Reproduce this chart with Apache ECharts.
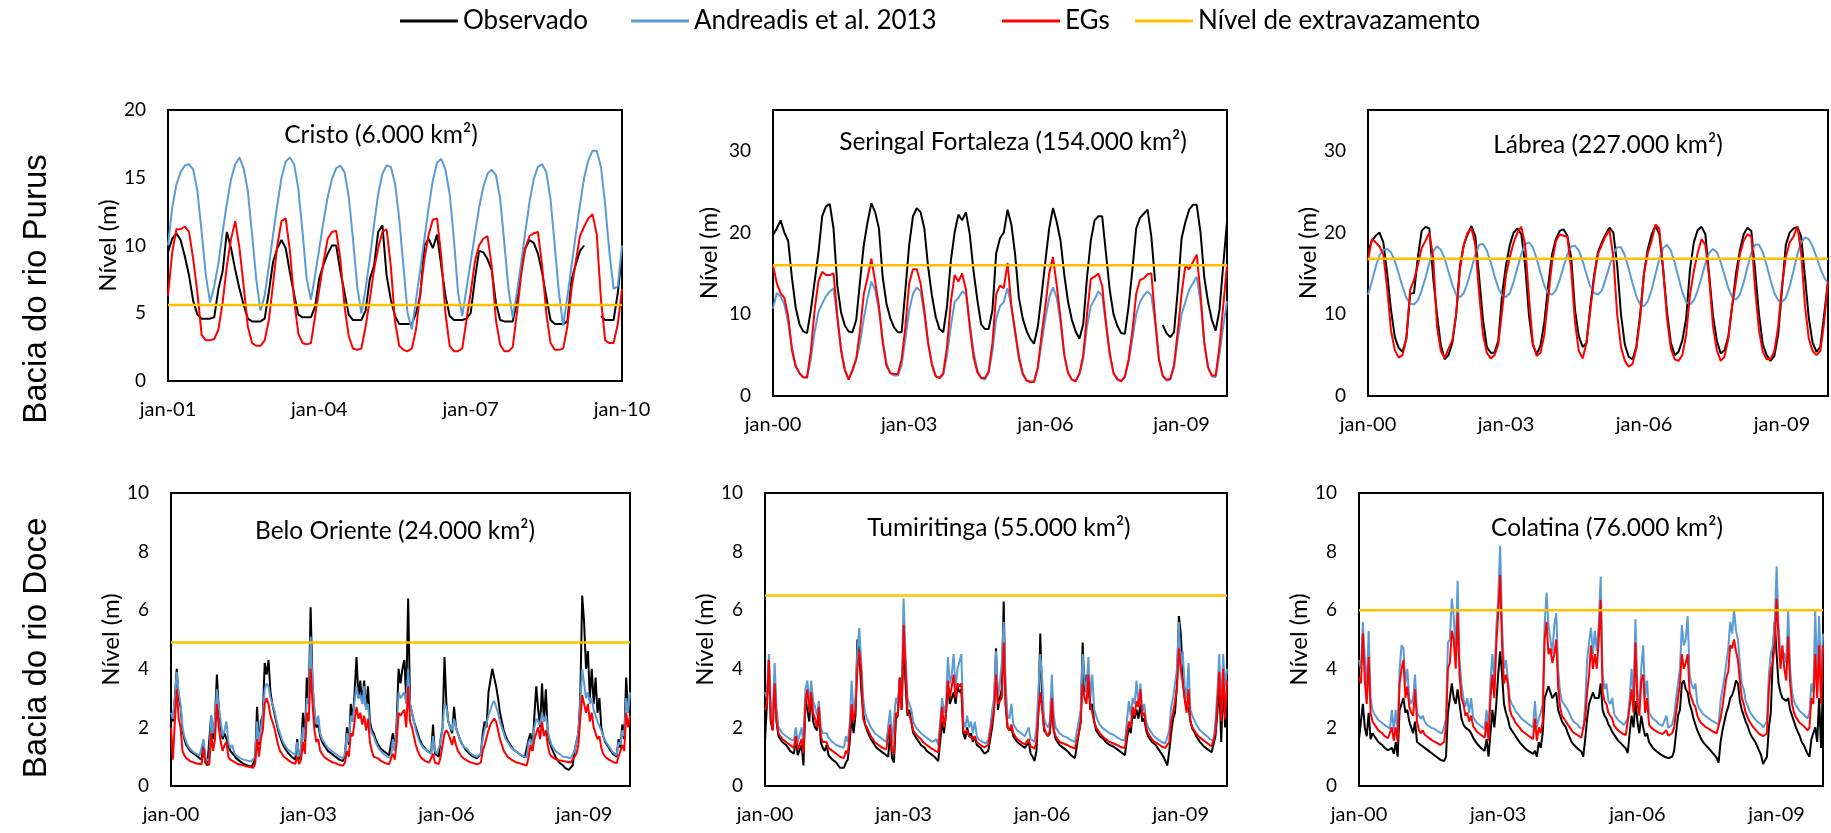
<!DOCTYPE html>
<html><head><meta charset="utf-8">
<script src="https://cdn.jsdelivr.net/npm/echarts@6/dist/echarts.min.js"></script>
<style>html,body{margin:0;padding:0;background:#fff}#c{width:1831px;height:833px}</style>
</head><body><div id="c"></div>
<script>
// ---------------- DATA ----------------
const seriesNames = ['Observado', 'Andreadis et al. 2013', 'EGs', 'Nível de extravazamento'];
const stationTitles = ['Cristo (6.000 km²)', 'Seringal Fortaleza (154.000 km²)', 'Lábrea (227.000 km²)',
  'Belo Oriente (24.000 km²)', 'Tumiritinga (55.000 km²)', 'Colatina (76.000 km²)'];
const basinLabels = ['Bacia do rio Purus', 'Bacia do rio Doce'];
const startYears = [2001, 2000, 2000, 2000, 2000, 2000];
const spanYears = [9, 10, 10, 10, 10, 10];
const samplesPerYear = [12, 12, 12, 24, 24, 24];
const yMax = [20, 35, 35, 10, 10, 10];
const yTickStep = [5, 10, 10, 2, 2, 2];
const spillLevels = [5.6, 16.0, 16.8, 4.9, 6.5, 6.0];

// Cristo (monthly, jan-01 .. jan-10)
const cristoObs = [
9.5,10.5,10.9,10.4,9.2,7.8,5.9,4.9,4.6,4.6,4.6,4.7,
6.8,8.1,11.0,9.8,8.2,6.8,5.6,4.6,4.4,4.4,4.4,4.6,
6.6,8.8,9.8,10.4,9.8,8.0,6.4,4.9,4.7,4.7,4.7,5.5,
7.6,8.6,9.4,10.0,10.0,8.1,6.5,4.9,4.5,4.5,4.5,5.2,
7.5,8.5,11.0,11.5,7.8,6.0,4.8,4.2,4.2,4.2,4.2,5.0,
6.3,10.0,10.5,9.8,10.8,8.5,6.3,4.8,4.5,4.5,4.5,4.6,
5.0,7.5,9.6,9.5,9.0,8.2,5.8,4.5,4.4,4.4,4.4,5.8,
8.4,9.8,10.4,10.2,9.4,8.0,6.2,4.5,4.2,4.2,4.2,4.4,
7.5,8.6,9.6,10.0,null,null,null,4.8,4.5,4.5,4.5,6.5,
9.5];
const cristoAndreadis = [
10.0,12.8,14.5,15.4,15.9,16.0,15.6,14.0,11.0,7.8,5.8,7.0,
8.7,11.0,13.1,14.9,16.0,16.5,15.7,14.0,10.8,7.5,5.2,6.3,
8.5,10.8,13.0,15.0,16.2,16.5,16.0,14.2,11.0,7.5,6.0,7.8,
9.8,11.8,13.6,14.9,15.7,15.9,15.4,13.6,10.5,7.0,5.0,6.8,
9.0,11.5,13.8,15.3,15.9,15.8,14.6,12.0,8.5,5.0,3.8,6.0,
8.2,10.5,12.8,14.8,16.1,16.4,15.6,13.8,10.5,6.5,4.8,6.8,
8.8,10.8,12.8,14.3,15.3,15.6,15.2,13.5,10.2,6.8,4.7,6.5,
8.7,11.0,13.2,14.9,15.8,16.0,15.4,13.4,10.0,6.5,4.1,6.2,
8.5,10.8,13.0,15.0,16.3,17.0,17.0,15.8,13.0,9.5,6.8,7.0,
10.0];
const cristoEGs = [
6.3,9.5,11.2,11.2,11.4,11.0,9.0,6.5,3.4,3.0,3.0,3.1,
3.8,5.8,8.5,10.5,11.8,9.8,7.0,4.0,2.8,2.6,2.6,3.0,
4.5,7.2,10.0,11.8,12.0,9.6,6.0,3.5,2.8,2.7,2.8,4.8,
6.8,8.8,10.5,11.0,11.1,9.0,5.5,3.3,2.4,2.3,2.4,4.0,
6.0,8.2,9.8,11.0,11.2,8.5,4.4,2.6,2.3,2.2,2.4,3.8,
6.5,9.0,10.8,11.9,12.0,9.2,5.0,2.6,2.2,2.2,2.4,4.5,
6.5,8.8,10.0,10.5,10.7,8.5,4.5,2.7,2.2,2.2,2.5,5.0,
7.8,9.8,10.7,10.9,11.0,8.5,5.0,2.8,2.3,2.3,2.4,4.0,
6.8,8.8,10.7,11.4,12.0,12.3,10.8,6.0,3.0,2.8,2.8,4.2,
6.8];

// Seringal Fortaleza (monthly, jan-00 .. jan-10)
const seringalObs = [
19.7,20.5,21.5,20.0,19.0,14.5,10.8,8.8,7.9,7.7,10.5,14.0,
17.5,22.0,23.2,23.5,20.5,13.5,10.2,8.6,7.9,7.8,9.3,14.0,
18.5,21.3,23.6,22.5,20.5,14.5,11.3,9.5,8.4,7.8,7.8,13.0,
18.5,22.0,23.0,22.5,20.5,15.8,12.3,9.7,8.2,7.8,11.0,16.5,
20.0,22.2,21.5,22.5,19.8,15.3,11.8,8.8,8.2,8.2,10.5,17.5,
19.3,20.0,22.8,21.0,17.3,12.0,9.5,8.0,7.0,6.4,8.5,12.4,
16.5,20.5,23.0,21.3,19.0,14.8,11.5,9.3,7.9,7.0,8.8,14.5,
19.0,21.5,22.0,22.0,17.5,13.0,10.0,8.6,7.7,7.6,11.0,15.5,
20.5,21.8,22.3,22.8,19.5,14.0,null,8.7,7.7,7.2,7.8,13.0,
19.3,21.3,22.8,23.4,23.4,20.0,14.5,11.5,9.3,8.0,10.5,16.0,
21.3];
const seringalAndreadis = [
10.7,12.6,12.2,11.2,9.0,6.0,3.8,2.8,2.3,2.2,4.5,7.8,
10.3,11.3,12.2,12.8,13.2,9.5,5.8,3.3,2.1,3.0,4.4,6.5,
9.5,12.0,14.0,13.0,10.5,7.0,4.0,2.8,2.5,2.5,3.8,7.0,
10.5,12.5,13.3,12.8,10.0,6.5,4.0,2.5,2.2,2.6,5.0,8.5,
11.5,12.0,12.8,12.5,9.0,5.5,3.2,2.2,2.0,2.8,5.5,9.5,
11.0,11.5,13.2,11.0,7.5,4.5,2.6,1.9,1.8,1.8,3.5,6.5,
9.5,12.0,13.3,12.0,9.0,5.0,2.8,2.0,1.8,2.6,4.5,8.5,
11.0,11.8,12.8,12.3,8.8,5.2,2.8,2.0,1.8,2.3,4.2,7.0,
10.0,11.5,12.3,12.8,12.3,9.0,4.5,2.4,1.9,2.0,3.5,7.0,
10.0,11.5,13.0,13.8,14.6,11.5,6.5,3.5,2.4,2.3,5.0,8.5,
11.6];
const seringalEGs = [
16.0,13.8,12.6,12.0,9.8,5.6,3.6,2.8,2.3,2.3,5.5,10.5,
14.0,15.2,14.8,14.8,15.0,9.8,5.5,3.1,2.0,3.2,4.6,8.0,
12.5,14.5,16.8,14.0,11.0,6.5,3.7,2.8,2.7,2.7,4.5,8.5,
13.8,15.5,15.5,13.8,10.5,6.5,3.8,2.4,2.2,2.8,6.0,11.5,
14.8,14.0,15.0,13.0,8.5,4.8,2.9,2.2,2.2,3.0,6.5,12.5,
13.5,13.2,16.3,11.0,8.0,4.8,2.8,1.9,1.7,1.7,3.5,7.5,
11.0,15.0,17.0,13.5,9.5,5.0,2.8,2.0,1.8,2.8,5.0,10.0,
14.3,14.6,15.0,13.5,9.0,5.2,2.8,2.1,1.8,2.4,4.5,8.0,
12.5,14.2,14.4,14.9,15.0,9.5,4.5,2.5,2.0,2.1,3.8,8.0,
12.5,16.0,15.5,16.4,17.3,12.5,6.5,3.5,2.5,2.5,6.0,11.0,
16.0];

// Lábrea (monthly, jan-00 .. jan-10)
const labreaObs = [
17.7,19.0,19.6,20.0,18.8,15.0,10.5,7.2,5.9,5.4,7.0,12.5,
12.6,17.0,20.2,20.7,20.5,14.5,10.0,6.2,4.5,5.0,6.5,10.0,
16.0,18.5,19.8,20.8,19.5,14.5,9.3,6.0,5.3,5.3,6.8,12.5,
16.0,18.5,20.0,20.5,19.8,16.0,9.8,6.3,5.1,6.2,9.0,13.5,
17.3,19.2,20.2,20.4,19.6,17.0,10.5,7.3,6.0,6.5,11.0,14.8,
17.6,18.8,19.8,20.6,20.0,16.0,10.0,6.3,4.8,4.5,6.0,10.0,
15.0,18.0,19.8,20.8,19.8,15.5,10.3,6.5,5.0,5.4,6.8,9.5,
15.5,18.8,20.3,20.7,19.8,14.8,9.8,6.8,5.2,5.6,7.3,11.0,
15.0,17.8,19.8,20.6,20.2,15.3,10.0,6.3,5.0,4.3,4.9,7.5,
13.0,18.5,20.0,20.5,20.7,19.5,14.5,9.5,6.5,5.4,6.0,10.0,
14.0];
const labreaAndreadis = [
12.4,14.0,15.8,17.2,17.9,18.0,17.6,16.5,15.0,13.4,12.0,11.3,
11.2,11.7,12.9,14.5,16.3,17.7,18.3,17.9,16.8,15.2,13.6,12.4,
12.1,12.6,13.9,15.6,17.3,18.5,18.6,17.8,16.4,14.7,13.2,12.3,
12.1,12.6,14.0,15.7,17.4,18.6,18.8,18.2,16.8,15.1,13.5,12.6,
12.4,12.9,14.2,15.8,17.3,18.3,18.4,17.8,16.5,14.9,13.4,12.6,
12.4,12.9,14.3,15.9,17.4,18.2,18.2,17.2,15.6,13.8,12.2,11.2,
11.0,11.6,13.0,14.9,16.8,18.1,18.5,17.8,16.3,14.5,12.7,11.5,
11.2,11.7,12.9,14.5,16.2,17.5,18.0,17.6,16.4,14.8,13.2,12.1,
11.8,12.4,13.9,15.8,17.5,18.5,18.5,17.6,16.0,14.2,12.6,11.7,
11.5,12.0,13.4,15.3,17.3,18.8,19.4,19.2,18.3,17.0,15.6,14.5,
13.8];
const labreaEGs = [
16.5,19.2,18.8,18.3,17.3,13.2,8.0,5.6,4.7,5.0,7.0,13.0,
14.2,16.0,18.1,19.0,20.0,17.0,8.5,5.5,4.6,5.8,6.8,10.0,
15.5,18.5,20.0,20.5,18.5,12.5,7.5,5.3,4.6,5.0,6.3,10.5,
14.8,17.0,18.8,20.0,20.7,18.5,12.0,6.5,4.9,5.3,7.5,12.0,
16.3,18.9,19.8,19.6,19.5,15.5,9.0,5.5,4.6,6.5,10.5,14.5,
17.4,18.5,19.6,20.3,17.0,10.0,6.0,4.3,3.6,3.9,5.8,9.5,
15.0,17.5,19.0,21.0,20.5,15.5,9.5,5.8,4.5,4.3,5.0,7.5,
12.4,15.3,17.5,19.2,18.5,14.5,8.5,5.6,4.3,4.8,7.0,11.0,
14.0,17.3,19.0,19.8,19.5,13.0,8.0,5.4,4.5,4.5,5.5,8.5,
13.5,17.0,18.8,19.5,20.8,17.5,11.0,7.0,5.5,5.0,5.5,9.0,
14.0];

// Belo Oriente (half-monthly, jan-00 .. jan-10)
const beloObs = [
2.5,2.2,3.0,4.0,3.0,2.7,1.9,1.6,1.4,1.3,1.2,1.15,1.1,1.05,1.0,0.95,0.9,1.5,0.8,0.7,0.65,2.4,1.6,2.3,
3.8,2.6,2.0,1.6,1.8,1.8,1.4,1.2,1.25,1.05,0.95,0.9,0.85,0.8,0.75,0.72,0.7,0.68,0.65,0.6,0.9,2.7,1.4,2.2,
2.4,4.2,3.8,4.3,3.2,2.8,2.5,2.2,1.9,1.7,1.5,1.35,1.25,1.15,1.1,1.0,0.95,0.9,1.6,0.9,1.2,2.5,1.5,3.7,
2.8,6.1,3.5,2.5,2.0,2.1,1.7,1.5,1.4,1.3,1.2,1.15,1.1,1.05,1.0,0.95,0.9,0.88,0.85,1.1,2.0,1.4,2.8,2.2,
3.2,4.4,3.0,3.6,2.8,3.6,2.6,3.4,2.2,1.9,1.8,1.6,1.45,1.35,1.25,1.2,1.15,1.1,1.05,1.0,1.8,1.2,2.2,4.0,
3.5,4.0,4.3,3.0,6.4,2.8,2.5,2.2,2.0,1.8,1.6,1.45,1.35,1.3,1.2,1.15,1.1,2.1,1.1,1.05,1.0,1.6,2.0,4.4,
2.8,2.2,2.0,1.8,2.7,2.0,1.8,1.6,1.45,1.35,1.25,1.2,1.1,1.05,1.0,0.97,0.94,0.9,1.1,1.8,2.2,2.0,3.2,3.6,
4.0,3.7,3.4,3.0,2.5,2.2,1.9,1.7,1.55,1.45,1.35,1.25,1.2,1.15,1.1,1.05,1.0,0.98,0.95,1.6,1.8,1.2,2.4,3.4,
2.6,2.0,3.5,2.2,3.3,1.8,1.5,1.3,1.15,1.0,0.9,0.8,0.75,0.7,0.62,0.6,0.55,0.6,0.7,1.2,1.5,1.8,3.0,6.5,
5.6,4.0,4.6,3.0,4.0,2.8,3.7,2.5,3.0,2.0,1.7,1.5,1.4,1.3,1.2,1.1,1.05,1.0,1.6,1.3,2.1,1.6,3.7,2.5,
2.8];
const beloAndreadis = [
2.5,2.3,3.0,3.9,3.2,2.8,2.0,1.7,1.5,1.35,1.3,1.2,1.15,1.1,1.05,1.05,1.0,1.6,0.95,0.9,0.85,2.4,1.8,2.2,
3.3,2.7,2.2,1.7,1.9,2.2,1.5,1.3,1.4,1.15,1.05,1.0,0.95,0.92,0.9,0.88,0.86,0.85,0.84,0.82,1.0,2.2,1.5,2.0,
2.4,3.3,3.5,3.4,3.0,2.8,2.6,2.3,2.0,1.8,1.6,1.45,1.35,1.25,1.2,1.15,1.1,1.05,1.5,1.0,1.3,2.0,1.6,3.0,
2.8,5.1,3.5,2.6,2.1,2.4,1.8,1.6,1.5,1.4,1.3,1.25,1.2,1.15,1.1,1.05,1.0,0.98,0.95,1.15,1.8,1.5,2.4,2.2,
2.9,3.4,3.0,3.1,2.8,3.4,2.6,2.8,2.0,1.8,1.7,1.5,1.35,1.25,1.2,1.1,1.05,1.0,1.0,0.95,1.6,1.2,2.0,3.2,
3.0,3.0,3.2,2.8,4.0,2.8,2.5,2.2,1.9,1.7,1.5,1.4,1.3,1.25,1.2,1.15,1.1,1.7,1.2,1.1,1.05,1.5,2.0,2.8,
2.7,2.2,2.0,1.9,2.3,2.0,1.8,1.6,1.45,1.35,1.3,1.25,1.15,1.1,1.05,1.02,1.0,0.98,1.1,1.6,1.9,1.9,2.4,2.6,
2.8,2.9,2.7,2.5,2.2,2.0,1.8,1.6,1.5,1.4,1.3,1.25,1.2,1.15,1.1,1.05,1.02,1.0,0.98,1.5,1.6,1.3,2.0,2.3,
2.3,2.1,2.5,2.2,2.4,1.9,1.6,1.4,1.3,1.2,1.15,1.1,1.05,1.0,1.0,0.98,0.96,0.95,0.95,1.2,1.5,1.8,2.8,4.0,
3.5,3.0,3.2,2.8,3.0,2.6,2.6,2.2,2.2,1.9,1.7,1.55,1.45,1.35,1.25,1.15,1.1,1.05,1.5,1.4,1.9,1.7,3.0,2.5,
3.2];
const beloEGs = [
2.0,0.9,2.2,3.3,2.3,2.0,1.2,1.05,0.95,0.9,0.85,0.82,0.8,0.78,0.76,0.75,0.74,1.3,0.8,0.75,0.72,1.8,1.2,1.6,
2.8,2.0,1.5,1.2,1.4,1.5,1.0,0.9,0.95,0.82,0.78,0.75,0.73,0.72,0.7,0.68,0.66,0.65,0.64,0.62,0.75,1.6,1.0,1.6,
1.9,2.8,3.0,2.8,2.4,2.2,2.0,1.7,1.4,1.2,1.1,1.0,0.95,0.9,0.85,0.8,0.78,0.76,1.0,0.75,0.9,1.5,1.1,2.5,
2.2,4.0,2.8,1.9,1.5,1.6,1.2,1.1,1.0,0.95,0.9,0.85,0.82,0.8,0.78,0.75,0.72,0.7,0.7,0.8,1.2,1.0,1.8,1.7,
2.2,2.7,2.3,2.5,2.1,2.4,1.9,2.3,1.5,1.2,1.0,1.0,0.95,0.9,0.85,0.8,0.78,0.75,0.74,0.72,1.1,0.9,1.5,2.5,
2.4,2.5,2.6,2.0,3.4,2.2,2.0,1.7,1.4,1.2,1.05,0.95,0.9,0.85,0.82,0.8,0.78,1.1,0.8,0.78,0.75,1.0,1.4,1.8,
1.9,1.8,1.6,1.4,1.7,1.4,1.2,1.1,1.0,0.95,0.9,0.85,0.82,0.8,0.78,0.76,0.74,0.72,0.8,1.2,1.4,1.4,1.9,2.1,
2.2,2.3,2.2,1.9,1.6,1.4,1.2,1.1,1.0,0.95,0.9,0.85,0.82,0.8,0.78,0.76,0.74,0.72,0.7,1.0,1.4,1.2,1.6,1.8,
2.0,1.6,2.2,1.7,1.9,1.4,1.1,1.0,0.95,0.92,0.9,0.88,0.86,0.85,0.84,0.83,0.82,0.8,0.8,1.0,1.1,1.4,2.3,3.1,
2.8,2.5,2.8,2.2,2.5,2.0,2.0,1.6,1.7,1.3,1.1,1.0,0.95,0.9,0.85,0.82,0.8,0.78,1.0,1.0,1.4,1.2,2.5,2.0,
2.4];

// Tumiritinga (half-monthly, jan-00 .. jan-10)
const tumiritingaObs = [
1.5,2.8,4.3,2.2,1.9,3.8,2.2,1.7,1.6,1.5,1.45,1.4,1.3,1.2,1.15,1.1,1.6,1.05,1.0,1.4,0.7,3.0,2.6,2.2,
3.2,2.2,2.0,1.9,2.5,1.5,1.3,1.2,1.4,1.05,1.0,0.9,0.85,0.8,0.7,0.62,0.6,0.62,0.8,0.9,1.5,2.4,1.8,2.4,
5.0,4.6,3.3,2.5,2.1,1.9,1.75,1.6,1.5,1.4,1.3,1.25,1.2,1.15,1.1,1.05,1.0,1.8,0.95,0.8,2.3,2.4,3.7,2.6,
5.0,3.5,2.4,2.6,2.2,1.8,1.7,1.6,1.5,1.4,1.35,1.3,1.2,1.15,1.1,1.05,1.0,0.95,0.85,0.8,2.2,1.8,2.5,3.5,
2.8,3.0,3.2,2.8,3.4,3.2,3.3,1.8,1.6,2.0,1.7,1.8,1.5,1.7,1.4,1.35,1.3,1.2,1.1,1.05,1.2,1.6,2.0,2.6,
4.7,2.6,3.0,3.3,6.3,2.8,2.0,1.9,2.0,1.7,1.6,1.5,1.45,1.4,1.35,1.3,1.25,1.5,1.1,1.0,0.85,1.2,2.5,5.2,
2.8,1.9,1.8,1.7,1.8,2.8,1.9,1.6,1.5,1.4,1.35,1.3,1.25,1.2,1.15,1.05,1.0,0.95,0.95,1.8,2.2,4.9,3.2,3.8,
3.5,2.6,2.8,2.2,1.9,1.8,1.7,1.65,1.6,1.5,1.45,1.4,1.38,1.35,1.3,1.25,1.2,1.15,1.1,1.05,1.6,2.0,1.8,2.5,
2.3,2.6,2.3,2.8,2.2,2.3,1.9,1.7,1.6,1.5,1.45,1.4,1.3,1.2,1.15,1.0,0.85,0.7,1.2,1.8,2.3,2.5,3.5,5.8,
5.2,3.8,3.0,2.6,2.7,2.2,1.95,1.85,1.7,1.6,1.5,1.45,1.35,1.3,1.25,1.2,1.15,1.1,1.7,2.5,3.5,1.5,3.6,2.0,
2.5];
const tumiritingaAndreadis = [
3.2,3.0,4.5,2.6,2.2,4.2,2.6,2.0,1.9,1.8,1.75,1.7,1.65,1.6,1.6,1.55,2.0,1.5,1.5,2.0,1.35,3.3,3.6,2.8,
3.6,2.9,2.7,2.4,2.9,2.0,1.8,1.75,1.8,1.65,1.6,1.5,1.45,1.4,1.38,1.35,1.32,1.3,1.7,1.5,2.1,3.6,2.5,3.0,
4.6,5.4,4.2,3.0,2.5,2.3,2.15,2.0,1.9,1.8,1.75,1.7,1.65,1.6,1.55,1.5,1.5,2.6,1.45,1.4,3.0,2.8,3.6,3.0,
6.4,4.5,3.0,3.0,2.6,2.2,2.05,1.95,1.9,1.8,1.75,1.7,1.65,1.6,1.55,1.5,1.48,1.6,1.4,1.38,3.0,2.5,2.8,4.4,
3.5,3.8,4.5,3.3,4.0,4.0,4.5,2.2,2.0,2.4,2.0,2.2,1.8,2.2,1.7,1.6,1.55,1.5,1.47,1.45,1.6,2.0,2.6,3.0,
4.6,3.0,3.5,4.2,5.6,3.5,2.4,2.3,2.8,2.1,2.0,1.9,1.85,1.8,1.75,1.7,1.65,2.0,1.6,1.55,1.5,2.0,3.2,4.5,
3.6,2.3,2.1,2.0,2.2,3.8,2.4,2.0,1.9,1.8,1.75,1.7,1.68,1.65,1.6,1.57,1.55,1.5,1.5,2.2,2.6,4.5,3.6,3.2,
4.4,3.0,3.8,2.6,2.4,2.2,2.1,2.0,1.95,1.9,1.85,1.8,1.77,1.75,1.7,1.65,1.6,1.58,1.55,1.55,2.2,2.9,2.4,3.0,
2.8,3.6,2.7,3.5,2.5,2.8,2.2,2.0,1.9,1.8,1.7,1.65,1.6,1.55,1.5,1.47,1.45,1.45,1.9,2.7,3.0,3.0,4.0,5.6,
4.0,4.6,3.4,3.0,4.2,2.6,2.4,2.25,2.1,2.0,1.9,1.85,1.78,1.75,1.68,1.6,1.58,1.55,2.2,3.2,4.5,2.4,4.5,3.4,
4.0];
const tumiritingaEGs = [
2.6,2.8,4.3,2.3,1.9,3.5,2.2,1.8,1.7,1.6,1.55,1.5,1.45,1.4,1.35,1.3,1.7,1.25,1.25,1.6,1.1,2.9,3.3,2.5,
3.2,2.5,2.3,2.0,2.7,1.7,1.5,1.45,1.5,1.3,1.25,1.2,1.15,1.1,1.05,1.0,0.98,0.95,1.2,1.1,1.8,2.8,2.2,2.6,
4.0,4.6,3.9,2.3,2.1,2.0,1.85,1.7,1.6,1.5,1.45,1.4,1.35,1.3,1.28,1.25,1.23,2.1,1.2,1.1,2.5,2.4,3.7,2.6,
5.5,4.0,2.6,2.6,2.2,1.9,1.8,1.72,1.68,1.6,1.5,1.45,1.4,1.35,1.3,1.25,1.22,1.2,1.15,1.1,2.7,2.0,2.4,3.6,
3.0,3.4,3.8,3.0,3.5,3.4,3.5,1.9,1.8,1.9,1.7,1.75,1.6,1.7,1.5,1.45,1.4,1.35,1.32,1.3,1.4,1.8,2.2,2.6,
3.8,2.8,2.9,3.0,4.9,2.8,2.0,1.9,2.1,1.8,1.7,1.6,1.55,1.5,1.45,1.42,1.4,1.6,1.35,1.3,1.28,1.5,2.5,3.2,
2.6,2.0,1.8,1.7,1.9,3.0,1.9,1.7,1.6,1.5,1.47,1.45,1.42,1.4,1.36,1.33,1.3,1.28,1.28,1.8,2.2,3.5,3.0,2.8,
3.8,2.8,2.5,2.2,2.0,1.9,1.8,1.72,1.66,1.6,1.55,1.5,1.47,1.45,1.42,1.4,1.35,1.32,1.3,1.3,1.8,2.2,2.0,2.7,
2.4,2.9,2.7,3.3,2.4,2.5,2.0,1.8,1.7,1.6,1.52,1.47,1.45,1.4,1.35,1.32,1.3,1.3,1.5,2.2,2.5,2.5,3.3,4.7,
4.0,3.5,3.0,2.5,3.3,2.2,2.0,1.9,1.8,1.72,1.65,1.6,1.55,1.5,1.45,1.4,1.35,1.3,1.8,2.8,3.9,2.2,4.0,2.3,
3.6];

// Colatina (half-monthly, jan-00 .. jan-10)
const colatinaObs = [
1.6,2.2,2.8,2.0,1.7,2.5,1.6,1.8,1.7,1.6,1.5,1.45,1.4,1.32,1.28,1.22,1.2,1.3,1.1,1.5,1.0,2.6,2.8,3.0,
2.5,2.6,2.2,2.0,1.8,2.2,1.5,1.5,1.4,1.4,1.3,1.25,1.2,1.15,1.1,1.05,1.0,0.95,0.9,0.88,0.85,1.0,2.5,3.0,
3.5,3.0,2.8,3.3,2.8,2.3,2.1,2.0,1.95,1.9,1.8,1.65,1.55,1.45,1.4,1.3,1.25,1.2,1.6,1.0,1.8,2.6,2.0,2.8,
3.8,4.6,3.8,2.8,2.5,2.3,2.0,1.9,1.8,1.7,1.6,1.5,1.42,1.35,1.28,1.22,1.18,1.14,1.1,1.2,1.0,1.5,1.3,1.8,
3.0,3.2,3.4,3.2,3.0,3.0,3.2,2.6,2.4,2.2,2.1,2.0,1.8,1.65,1.5,1.42,1.35,1.28,1.22,1.18,1.0,1.6,2.3,2.8,
3.0,3.2,3.0,3.0,3.0,3.5,2.6,2.4,2.3,2.1,2.0,1.85,1.75,1.65,1.55,1.5,1.42,1.35,1.28,1.12,1.8,2.4,2.0,2.9,
2.2,1.8,2.4,2.0,1.7,1.8,1.5,1.4,1.3,1.25,1.18,1.12,1.08,1.04,1.0,0.98,0.95,0.9,1.0,1.2,1.8,2.4,2.6,3.5,
3.6,3.3,3.2,2.8,2.6,2.3,2.1,1.9,1.75,1.6,1.5,1.42,1.35,1.28,1.2,1.12,1.05,0.95,0.8,1.5,1.9,2.2,2.5,2.7,
3.0,3.1,3.3,3.6,3.5,2.9,2.6,2.4,2.2,2.05,1.85,1.7,1.6,1.5,1.35,1.2,1.05,0.75,0.8,1.0,2.0,2.5,4.3,5.6,
4.5,3.5,3.2,3.0,3.0,2.9,3.0,2.6,2.4,2.2,2.0,1.85,1.7,1.5,1.4,1.25,1.1,1.0,1.6,1.8,2.0,1.5,3.0,1.3,
3.5];
const colatinaAndreadis = [
4.3,4.0,5.6,4.4,3.3,5.3,3.0,2.6,2.45,2.35,2.25,2.2,2.15,2.1,2.05,2.0,1.95,2.6,1.9,2.6,1.85,4.0,4.8,4.7,
3.5,4.0,3.0,2.8,3.0,3.8,2.5,2.4,2.3,2.4,2.2,2.1,2.05,2.0,2.0,1.95,1.9,1.85,1.8,1.8,2.0,2.3,4.9,5.0,
6.4,5.8,4.5,7.0,4.3,3.5,3.0,2.7,3.0,2.5,3.0,2.35,2.25,2.15,2.1,2.05,2.0,1.95,2.6,1.9,3.6,4.5,3.5,5.4,
6.4,8.2,5.5,4.0,4.3,4.3,3.0,2.8,2.7,2.55,2.5,2.4,2.3,2.25,2.2,2.15,2.1,2.05,2.0,2.9,2.0,2.3,2.5,2.8,
5.5,6.6,5.5,5.5,4.5,5.5,5.9,4.0,3.2,2.9,2.8,2.7,2.6,2.45,2.3,2.2,2.15,2.1,2.0,1.95,1.95,2.8,4.3,4.9,
5.4,4.5,5.3,4.6,5.5,7.15,3.8,3.3,3.5,2.9,2.8,3.0,2.45,2.35,2.25,2.2,2.15,2.08,2.05,2.3,3.0,4.0,3.0,5.7,
3.3,2.7,4.0,4.8,3.0,3.6,2.5,2.4,2.3,2.25,2.2,2.12,2.08,2.05,2.0,2.4,1.98,1.95,2.1,2.4,3.0,3.5,4.0,5.5,
4.8,5.0,5.8,3.8,3.5,3.3,3.5,2.8,2.65,2.55,2.45,2.4,2.35,2.3,2.25,2.2,2.18,2.15,2.1,2.9,3.3,3.7,4.2,4.7,
5.6,5.2,6.0,5.3,5.0,4.2,3.5,3.3,2.9,2.75,2.55,2.45,2.35,2.3,2.2,2.15,2.1,2.0,2.1,2.2,3.8,4.5,4.8,5.5,
7.5,5.5,4.5,4.6,4.5,4.2,6.0,4.0,3.2,2.9,2.75,2.65,2.55,2.5,2.45,2.4,2.3,2.5,3.5,3.2,6.0,3.5,5.8,3.6,
5.2];
const colatinaEGs = [
3.7,3.5,5.2,3.6,2.8,4.4,2.5,2.2,2.1,2.0,1.9,1.85,1.8,1.72,1.68,1.63,1.6,2.0,1.55,2.0,1.5,3.5,4.0,4.3,
3.0,3.4,2.7,2.5,2.4,3.3,2.2,1.9,1.8,1.9,1.75,1.7,1.65,1.6,1.55,1.5,1.48,1.45,1.4,1.38,1.5,2.0,4.0,4.2,
5.3,5.0,4.0,5.9,3.8,3.0,2.8,2.4,2.5,2.2,2.4,2.05,1.95,1.85,1.8,1.75,1.7,1.65,2.2,1.55,3.0,3.8,3.0,4.8,
5.9,7.2,4.8,3.5,3.8,3.5,2.6,2.4,2.3,2.15,2.1,2.0,1.9,1.85,1.8,1.75,1.7,1.65,1.6,2.3,1.55,2.0,1.8,2.2,
5.0,5.6,4.5,4.7,4.2,4.5,5.0,3.4,2.7,2.4,2.3,2.2,2.1,2.0,1.9,1.82,1.78,1.74,1.7,1.65,1.62,2.3,3.2,3.8,
4.8,4.0,4.5,4.0,5.0,6.35,3.2,2.9,2.8,2.5,2.4,2.3,2.05,1.98,1.9,1.85,1.8,1.76,1.74,1.8,2.7,3.3,2.5,4.9,
2.8,2.4,3.6,3.8,2.5,3.0,2.1,2.0,1.95,1.9,1.85,1.82,1.8,1.77,1.75,1.9,1.72,1.7,1.8,2.0,2.5,3.0,3.5,4.5,
4.0,4.2,4.5,3.2,3.0,2.8,2.7,2.4,2.25,2.15,2.1,2.03,1.98,1.95,1.9,1.86,1.83,1.8,1.75,2.3,2.7,3.2,3.7,3.9,
4.8,4.7,5.0,4.6,4.3,3.6,3.0,2.8,2.5,2.35,2.2,2.1,2.0,1.95,1.85,1.78,1.75,1.7,1.75,1.8,3.3,4.0,4.2,4.8,
6.4,5.0,4.0,4.8,4.0,3.6,5.1,3.5,2.8,2.5,2.35,2.25,2.15,2.1,2.05,2.0,1.9,2.0,3.0,2.8,4.5,3.0,4.8,2.8,
4.8];

const obsSets = [cristoObs, seringalObs, labreaObs, beloObs, tumiritingaObs, colatinaObs];
const andreadisSets = [cristoAndreadis, seringalAndreadis, labreaAndreadis, beloAndreadis, tumiritingaAndreadis, colatinaAndreadis];
const egsSets = [cristoEGs, seringalEGs, labreaEGs, beloEGs, tumiritingaEGs, colatinaEGs];

// ---------------- LAYOUT / STYLE ----------------
const FONT = 'Lato, "Open Sans", sans-serif';
const COLORS = ['#000000', '#5B9BD5', '#FF0000', '#FFC000'];
const grids = [
  {left: 168, top: 110, width: 454, height: 271},
  {left: 773, top: 110, width: 454, height: 286},
  {left: 1368, top: 110, width: 462, height: 286},
  {left: 171, top: 493, width: 459, height: 293},
  {left: 765, top: 493, width: 462, height: 293},
  {left: 1359, top: 493, width: 464, height: 293}
];
const nameGaps = [43, 52, 48, 46, 44, 42];
const titlePos = [[381, 135], [1013, 142], [1608, 145], [395, 531], [999, 528], [1607, 528]];
const legendLeft = [400, 631, 1002, 1135];

const option = {
  backgroundColor: '#fff',
  animation: false,
  legend: seriesNames.map((nm, s) => ({
    data: [nm], top: 8, left: legendLeft[s], itemWidth: 58, itemHeight: 3, icon: 'rect',
    selectedMode: false, padding: 0,
    textStyle: {fontFamily: FONT, fontSize: 26, color: '#000'}
  })),
  grid: grids.map(g => Object.assign({show: true, borderColor: '#000', borderWidth: 2, containLabel: false, backgroundColor: 'transparent'}, g)),
  xAxis: grids.map((g, i) => ({
    type: 'value', gridIndex: i, min: 0, max: spanYears[i], interval: 3,
    axisLine: {show: false}, axisTick: {show: false}, splitLine: {show: false},
    axisLabel: {
      margin: 19, color: '#000', fontFamily: FONT, fontSize: 20,
      formatter: v => (v % 3 === 0 ? 'jan-' + String((startYears[i] + v) % 100).padStart(2, '0') : '')
    }
  })),
  yAxis: grids.map((g, i) => ({
    type: 'value', gridIndex: i, min: 0, max: yMax[i], interval: yTickStep[i],
    axisLine: {show: false}, axisTick: {show: false}, splitLine: {show: false},
    name: 'Nível (m)', nameLocation: 'middle', nameGap: nameGaps[i],
    nameTextStyle: {fontFamily: FONT, fontSize: 24, color: '#000'},
    axisLabel: {
      margin: 22, color: '#000', fontFamily: FONT, fontSize: 19,
      formatter: v => (v % yTickStep[i] === 0 ? String(v) : '')
    }
  })),
  series: [],
  graphic: []
};

grids.forEach((g, i) => {
  const toPairs = arr => arr.map((v, k) => [k / samplesPerYear[i], v]);
  const sets = [obsSets[i], andreadisSets[i], egsSets[i]];
  sets.forEach((arr, s) => {
    option.series.push({
      name: seriesNames[s], type: 'line', xAxisIndex: i, yAxisIndex: i,
      data: toPairs(arr), symbol: 'none', silent: true, connectNulls: false,
      lineStyle: {color: COLORS[s], width: 2}, itemStyle: {color: COLORS[s]}
    });
  });
  option.series.push({
    name: seriesNames[3], type: 'line', xAxisIndex: i, yAxisIndex: i,
    data: [[0, spillLevels[i]], [spanYears[i], spillLevels[i]]], symbol: 'none', silent: true,
    lineStyle: {color: COLORS[3], width: 2.5}, itemStyle: {color: COLORS[3]}
  });
  option.graphic.push({
    type: 'text', x: titlePos[i][0], y: titlePos[i][1], silent: true,
    style: {text: stationTitles[i], font: '24.5px ' + FONT, fill: '#000', align: 'center', verticalAlign: 'middle'}
  });
});

option.graphic.push(
  {type: 'text', x: 37, y: 289, rotation: Math.PI / 2, silent: true,
   style: {text: basinLabels[0], font: '33px "Liberation Sans", Arial, sans-serif', fill: '#000', align: 'center', verticalAlign: 'middle'}},
  {type: 'text', x: 37, y: 648, rotation: Math.PI / 2, silent: true,
   style: {text: basinLabels[1], font: '33px "Liberation Sans", Arial, sans-serif', fill: '#000', align: 'center', verticalAlign: 'middle'}}
);

const chart = echarts.init(document.getElementById('c'), null, {renderer: 'canvas', width: 1831, height: 833});
chart.setOption(option);
</script>
</body></html>
